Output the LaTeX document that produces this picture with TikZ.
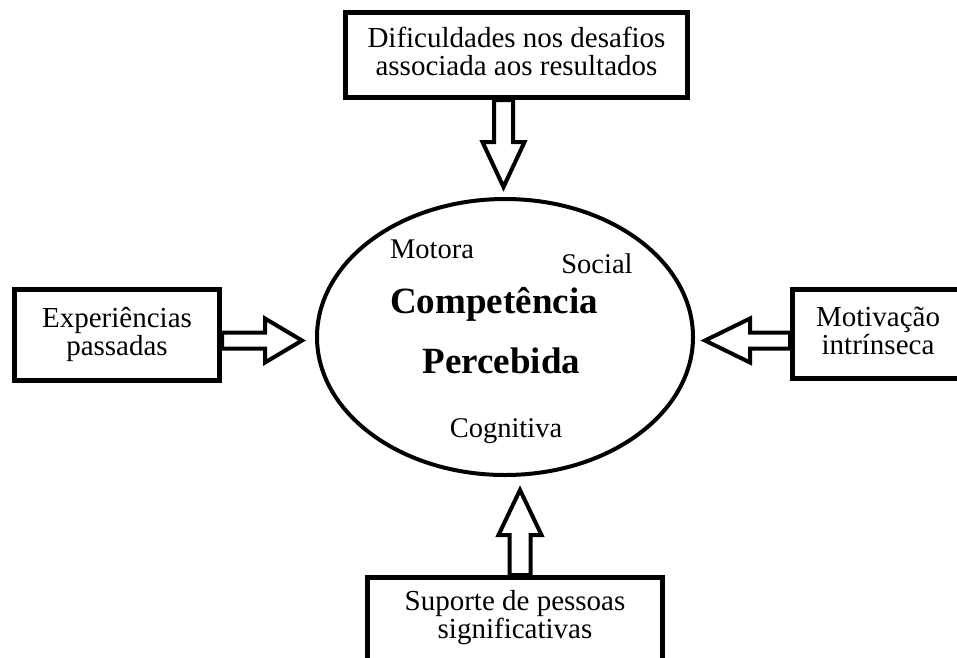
\documentclass[tikz,border=0pt]{standalone}
\usepackage{fontspec}
\setmainfont{Liberation Serif}
\usetikzlibrary{calc, shapes.geometric}

\newcommand{\twolines}[3][12pt]{\rule{0pt}{25pt}#2\\#3\rule[-#1]{0pt}{#1}}

\tikzset{
	box/.style = {draw, line width = 5pt, inner sep = 0pt, align = center, font = \fontsize{29}{28}\selectfont},
	fatarrow/.style = {draw, line width = 4pt, line join = miter},
	word/.style = {anchor = base, inner sep = 0pt, font = \fontsize{28.5}{30}\selectfont},
	bigword/.style = {anchor = base, inner sep = 0pt, font = \fontsize{37}{40}\selectfont\bfseries}
}

\begin{document}
\begin{tikzpicture}[x = 1pt, y = -1pt]

	\useasboundingbox (0, 0) rectangle (957, 657);
	\clip (0, 0) rectangle (957, 657);
	
	\node[draw, ellipse, line width = 4pt, inner sep = 0pt, minimum width = 376pt, minimum height = 276pt] (comp) at (505, 337) {};
	\node[word] (motora) at (432, 258) {Motora};
	\node[word] (social) at (597, 273) {Social};
	\node[bigword] (compet) at (494, 313) {Competência};
	\node[bigword] (perceb) at (501.5, 373) {Percebida};
	\node[word] (cognit) at (506, 437) {Cognitiva};
	
	\node[box, minimum width = 342pt, minimum height = 85pt] (dif) at (516.5, 55) {\twolines{Dificuldades nos desafios}{associada aos resultados}};
	\node[box, minimum width = 205pt, minimum height = 91pt] (exp) at (117, 335) {\twolines{Experiências}{passadas}};
	\node[box, minimum width = 171pt, minimum height = 89pt] (mot) at (878, 334) {\twolines{Motivação}{intrínseca}};
	\node[box, minimum width = 295pt, minimum height = 100pt] (sup) at (515, 627.5) {\twolines[32pt]{Suporte de pessoas}{significativas}};
	
	\coordinate (tipT) at (503.5, 187);
	\coordinate (tipL) at (302, 340.5);
	\coordinate (tipR) at (705, 340.5);
	\coordinate (tipB) at (520, 490);
	
	\draw[fatarrow] (tipT) -- ++(-21, -45) -- ++(11.5, 0) -- ($(tipT |- dif.south) + (-9.5, 0)$) -- ++(19, 0) -- ($(tipT) + (9.5, -45)$) -- ++(11.5, 0) -- cycle;
	\draw[fatarrow] (tipL) -- ++(-37, -22) -- ++(0, 14) -- ($(tipL -| exp.east) + (0, -8)$) -- ++(0, 16) -- ($(tipL) + (-37, 8)$) -- ++(0, 14) -- cycle;
	\draw[fatarrow] (tipR) -- ++(45, -22) -- ++(0, 14) -- ($(tipR -| mot.west) + (0, -8)$) -- ++(0, 16) -- ($(tipR) + (45, 8)$) -- ++(0, 14) -- cycle;
	\draw[fatarrow] (tipB) -- ++(-21.5, 45) -- ++(11, 0) -- ($(tipB |- sup.north) + (-10.5, 0)$) -- ++(21, 0) -- ($(tipB) + (10.5, 45)$) -- ++(11, 0) -- cycle;
	
\end{tikzpicture}
\end{document}
